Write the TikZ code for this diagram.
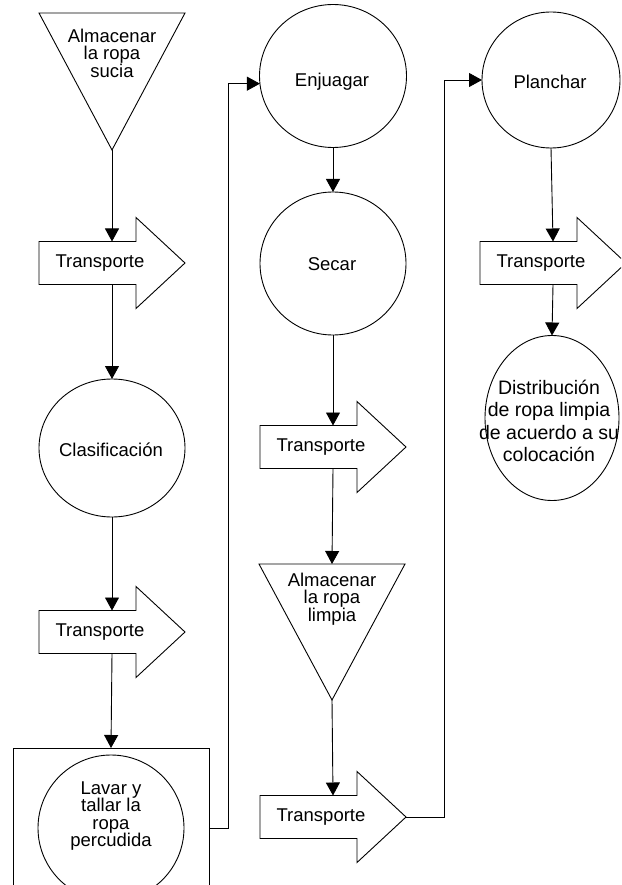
\documentclass[tikz,border=0pt]{standalone}
\usepackage{fontspec}
\setmainfont{Liberation Sans}
\usetikzlibrary{shapes.geometric,arrows.meta}

% transport symbol: a block arrow around an invisible box node
\newcommand{\transporte}[3]{%
  \node[tbox] (#1) at (#2,#3) {};
  \draw (#1.south west) -- (#1.north west)
    -- ([xshift=-49pt]#1.north east)
    -- ([xshift=-49pt,yshift=24pt]#1.north east)
    -- (#1.east)
    -- ([xshift=-49pt,yshift=-24pt]#1.south east)
    -- ([xshift=-49pt]#1.south east) -- cycle;
  \node[lbl] (#1t) at ([xshift=-12pt]#1.center) {Transporte};}

\begin{document}
\begin{tikzpicture}[x=1pt,y=-1pt,line width=0.9pt,
  flow/.style={-{Triangle[width=14pt,length=13pt]}},
  tbox/.style={inner sep=0pt,outer sep=0pt,minimum width=146pt,minimum height=43pt},
  op/.style={draw,ellipse,inner sep=0pt,outer sep=0pt},
  shell/.style={inner sep=0pt,outer sep=0pt},
  lbl/.style={inner sep=0pt,align=center,font=\fontsize{18.5}{17.5}\selectfont},
  biglbl/.style={inner sep=0pt,align=center,font=\fontsize{19.5}{22.5}\selectfont},
]
\clip (0,0) rectangle (621,885);

% ---- first column ----
\node[shell,minimum width=146pt,minimum height=137pt] (s1) at (112,81.5) {};
\draw (s1.north west) -- (s1.north east) -- (s1.south) -- cycle;
\node[lbl] (s1t) at (112,53) {Almacenar\\la ropa\\sucia};

\transporte{t1}{112}{263}

\node[op,minimum width=146pt,minimum height=138pt] (c1) at (112,448) {};
\node[lbl] (c1t) at (111,450) {Clasificación};

\transporte{t2}{112}{632}

\node[draw,shell,minimum width=196pt,minimum height=172pt] (r1) at (111,834) {};
\node[op,minimum width=146pt,minimum height=146pt] (c2) at (111,828) {};
\node[lbl] (c2t) at (111,816) {Lavar y\\tallar la\\ropa\\percudida};

% ---- second column ----
\node[op,minimum width=147pt,minimum height=143pt] (c3) at (333,76) {};
\node[lbl] (c3t) at (332,82) {Enjuagar};

\node[op,minimum width=146pt,minimum height=143pt] (c4) at (333,263.5) {};
\node[lbl] (c4t) at (332,264) {Secar};

\transporte{t3}{333}{447}

\node[shell,minimum width=146pt,minimum height=136pt] (s2) at (332,632) {};
\draw (s2.north west) -- (s2.north east) -- (s2.south) -- cycle;
\node[lbl] (s2t) at (332,599) {Almacenar\\la ropa\\limpia};

\transporte{t4}{333}{817}

% ---- third column ----
\node[op,minimum width=138pt,minimum height=136pt] (c5) at (551,80) {};
\node[lbl] (c5t) at (550,82) {Planchar};

\transporte{t5}{553}{263}

\node[op,minimum width=134pt,minimum height=165pt] (c6) at (552,418) {};
\node[biglbl] (c6t) at (549,421) {Distribución\\de ropa limpia\\de acuerdo a su\\colocación};

% ---- connectors ----
\draw[flow] (s1.south) -- (t1.north);
\draw[flow] (t1.south) -- (c1.north);
\draw[flow] (c1.south) -- (t2.north);
\draw[flow] (t2.south) -- (r1.north);
\draw[flow] (c2 -| r1.east) -- ++(19,0) |- (c3.186);
\draw[flow] (c3.south) -- (c4.north);
\draw[flow] (c4.south) -- (t3.north);
\draw[flow] (t3.south) -- (s2.north);
\draw[flow] (s2.south) -- (t4.north);
\draw[flow] (t4.east) -- ++(38,0) |- (c5.west);
\draw[flow] (c5.south) -- (t5.north);
\draw[flow] (t5.south) -- (c6.north);
\end{tikzpicture}
\end{document}
